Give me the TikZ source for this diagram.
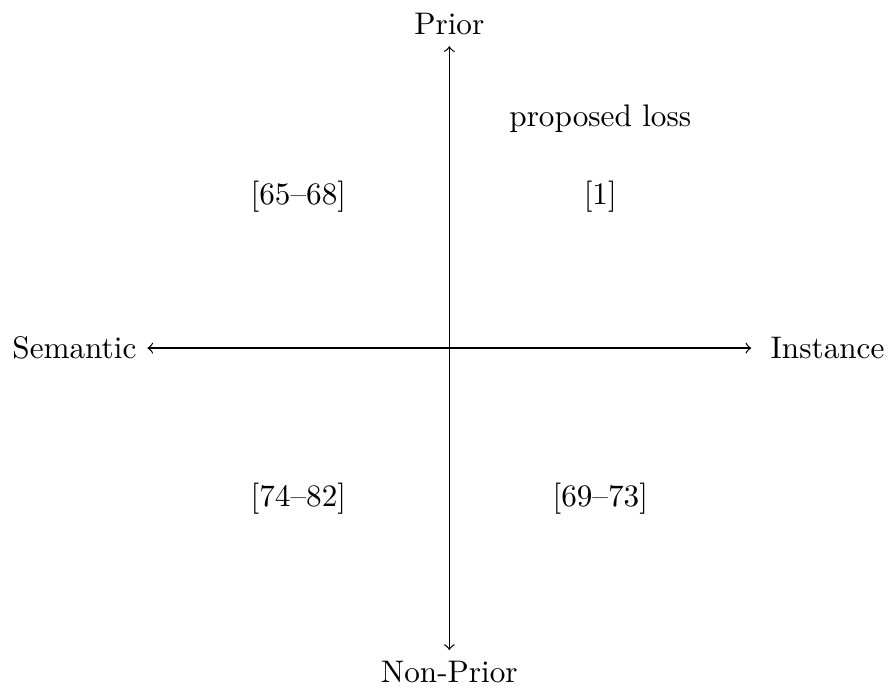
\documentclass[tikz,border=0pt]{standalone}
\usepackage{tikz}

\begin{document}
\begin{tikzpicture}[quad/.style={anchor=center}]

  \useasboundingbox (-5.06, -3.84) rectangle (4.94, 3.92);

  % --- assi ---
  \node[left]  (sem)      at (-3.4, 0) {Semantic};
  \node[right, outer xsep=2.9pt] (ins) at (3.4, 0) {Instance};
  \node[above] (prior)    at (0,  3.4) {Prior};
  \node[below] (nonprior) at (0, -3.4) {Non-Prior};

  \draw[<->] (sem) -- (ins);
  \draw[<->] (nonprior) -- (prior);

  % --- quadranti ---
  \node[quad] (q1)   at ( 1.7,  1.7) {[1]};
  \node[quad] (prop) at ( 1.7,  2.58) {proposed loss};
  \node[quad] (q2)   at (-1.7,  1.7) {[65--68]};
  \node[quad] (q3)   at (-1.7, -1.7) {[74--82]};
  \node[quad] (q4)   at ( 1.7, -1.7) {[69--73]};

\end{tikzpicture}
\end{document}
